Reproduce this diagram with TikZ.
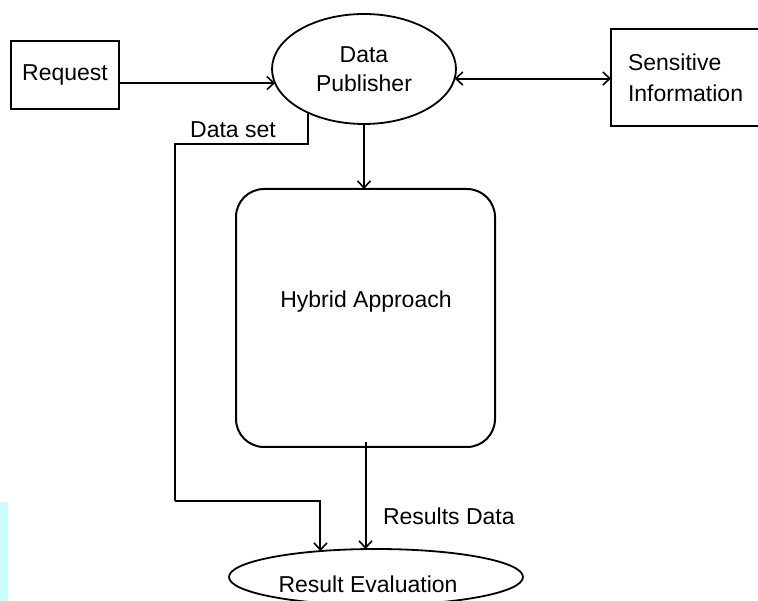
\documentclass[tikz,border=0pt]{standalone}
\usepackage{fontspec}
\setmainfont{Liberation Sans}
\usetikzlibrary{arrows.meta,shapes.geometric}
\definecolor{stripcyan}{HTML}{CCFFFF}

\begin{document}
\begin{tikzpicture}[x=1pt,y=-1pt,
  every node/.style={font=\fontsize{23}{31}\selectfont, inner sep=0pt, outer sep=0pt},
  wire/.style={line width=2pt, draw=black},
  tip/.tip={Straight Barb[length=7pt,width=13pt,line width=1.6pt]},
  arr/.style={wire, -tip},
  darr/.style={wire, tip-tip},
  boxnode/.style={draw, line width=2pt},
  oval/.style={ellipse, draw, line width=1.8pt},
  lbl/.style={inner sep=0pt}]

\useasboundingbox (0,0) rectangle (758,601);

% pale strip along the lower left edge
\fill[stripcyan] (0,502) rectangle (8,601);

% nodes
\node[boxnode, minimum width=108pt, minimum height=68pt] (req) at (65,75) {Request};
\node[oval, minimum width=184pt, minimum height=110pt, align=center] (pub) at (364,69)
  {Data\\[-2pt]Publisher};
\node[boxnode, anchor=west, minimum height=97pt, text width=150pt, inner xsep=17pt,
      align=left] (sens) at (611,77.5) {Sensitive\\Information};
\node[boxnode, rounded corners=28pt, minimum width=259pt, minimum height=258pt] (hyb)
  at (365.5,318) {};
\node (hybtext) at (366,302) {Hybrid Approach};
\node[oval, minimum width=294pt, minimum height=56pt] (res) at (376,577) {};
\node (restext) at (368,584) {Result Evaluation};

% labels
\node[lbl] (dslabel) at (233,130) {Data set};
\node[lbl, anchor=west] (rdlabel) at (383,516) {Results Data};

% bend points of the data set line
\coordinate (dsbend) at (175,144);
\coordinate (dslow) at (175,501);

% connectors
\draw[arr] (req.east |- pub.189) -- (pub.189);
\draw[darr] (pub.-6.3) -- (sens.west |- pub.-6.3);
\draw[arr] (pub.south) -- (pub.south |- hyb.north);
\draw[wire] (pub.218) |- (dsbend) -- (dslow);
\draw[arr] (dslow) -| (res.155.6);
\draw[arr] ([yshift=5pt]hyb.south) -- (hyb.south |- res.north);

\end{tikzpicture}
\end{document}
